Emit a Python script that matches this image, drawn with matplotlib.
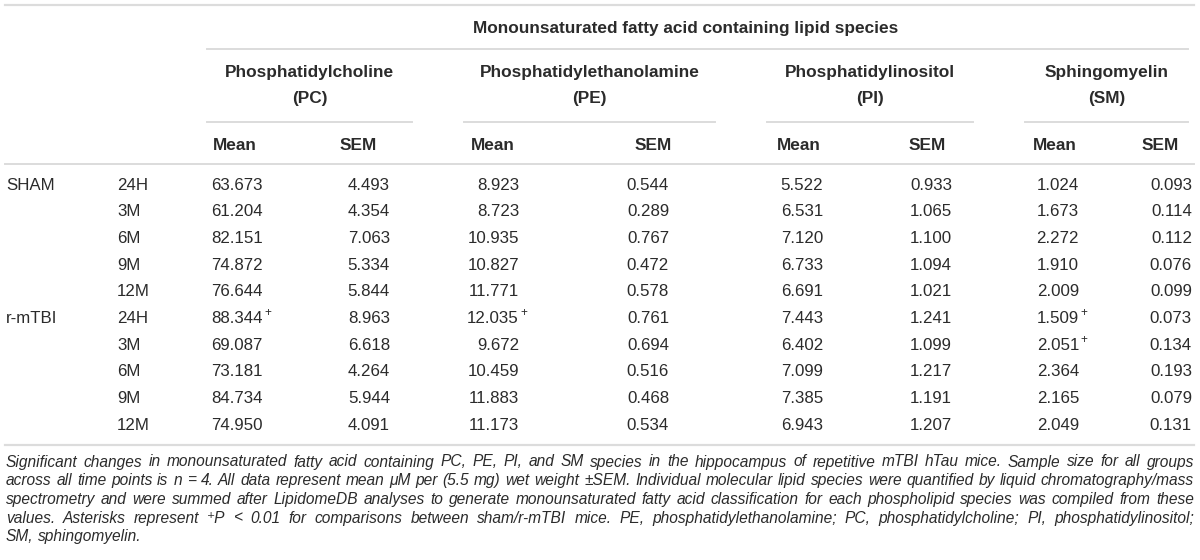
import matplotlib
matplotlib.use('Agg')
import matplotlib.pyplot as plt

plt.rcParams['font.family'] = ['Liberation Sans', 'DejaVu Sans']

# table data
groups = ['SHAM', 'r-mTBI']
times = ['24H', '3M', '6M', '9M', '12M']
lipids = ['Phosphatidylcholine', 'Phosphatidylethanolamine', 'Phosphatidylinositol', 'Sphingomyelin']
abbrevs = ['(PC)', '(PE)', '(PI)', '(SM)']

pc_mean = [63.673, 61.204, 82.151, 74.872, 76.644, 88.344, 69.087, 73.181, 84.734, 74.950]
pc_sem = [4.493, 4.354, 7.063, 5.334, 5.844, 8.963, 6.618, 4.264, 5.944, 4.091]
pe_mean = [8.923, 8.723, 10.935, 10.827, 11.771, 12.035, 9.672, 10.459, 11.883, 11.173]
pe_sem = [0.544, 0.289, 0.767, 0.472, 0.578, 0.761, 0.694, 0.516, 0.468, 0.534]
pi_mean = [5.522, 6.531, 7.120, 6.733, 6.691, 7.443, 6.402, 7.099, 7.385, 6.943]
pi_sem = [0.933, 1.065, 1.100, 1.094, 1.021, 1.241, 1.099, 1.217, 1.191, 1.207]
sm_mean = [1.024, 1.673, 2.272, 1.910, 2.009, 1.509, 2.051, 2.364, 2.165, 2.049]
sm_sem = [0.093, 0.114, 0.112, 0.076, 0.099, 0.073, 0.134, 0.193, 0.079, 0.131]

# (column index, row index) of values marked with superscript +
marked = [(0, 5), (2, 5), (6, 5), (6, 6)]

caption = [
    "Significant changes in monounsaturated fatty acid containing PC, PE, PI, and SM species in the hippocampus of repetitive mTBI hTau mice. Sample size for all groups",
    "across all time points is n = 4. All data represent mean \u03bcM per (5.5 mg) wet weight \u00b1SEM. Individual molecular lipid species were quantified by liquid chromatography/mass",
    "spectrometry and were summed after LipidomeDB analyses to generate monounsaturated fatty acid classification for each phospholipid species was compiled from these",
    "values. Asterisks represent \u207aP < 0.01 for comparisons between sham/r-mTBI mice. PE, phosphatidylethanolamine; PC, phosphatidylcholine; PI, phosphatidylinositol;",
    "SM, sphingomyelin.",
]

columns = [pc_mean, pc_sem, pe_mean, pe_sem, pi_mean, pi_sem, sm_mean, sm_sem]

# layout in pixels
col_right = [263, 390, 519, 669, 823, 952, 1079, 1192]
head_left = [213, 340, 471, 635, 777, 909, 1033, 1142]
class_lines = [(207, 412), (464, 715), (767, 973), (1025, 1188)]
row_y0, row_dy = 185, 26.67
txt = '#2b2b2b'
rule = '#dcdcdc'
fs = 12.2
fs_b = 12.4

fig = plt.figure(figsize=(12, 5.6), dpi=100)
ax = fig.add_axes([0, 0, 1, 1])
ax.set_xlim(0, 1200)
ax.set_ylim(560, 0)
ax.axis('off')

# rules
ax.plot([5, 1194], [5, 5], color=rule, lw=1.6)
ax.plot([207, 1188], [49, 49], color=rule, lw=1.4)
for x0, x1 in class_lines:
    ax.plot([x0, x1], [122, 122], color=rule, lw=1.4)
ax.plot([5, 1194], [164, 164], color=rule, lw=1.4)
ax.plot([5, 1194], [445, 445], color=rule, lw=1.6)

# headers
ax.text(686, 28, 'Monounsaturated fatty acid containing lipid species', ha='center', va='center',
        fontsize=fs_b, fontweight='bold', color=txt)
for (x0, x1), name, ab in zip(class_lines, lipids, abbrevs):
    xc = (x0 + x1) / 2
    ax.text(xc, 72, name, ha='center', va='center', fontsize=fs_b, fontweight='bold', color=txt)
    ax.text(xc, 98, ab, ha='center', va='center', fontsize=fs_b, fontweight='bold', color=txt)
for i, x in enumerate(head_left):
    ax.text(x, 145, 'Mean' if i % 2 == 0 else 'SEM', ha='left', va='center',
            fontsize=fs_b, fontweight='bold', color=txt)

# body
for r in range(10):
    y = row_y0 + r * row_dy
    if r % 5 == 0:
        ax.text(6, y, groups[r // 5], ha='left', va='center', fontsize=fs, color=txt)
    ax.text(117, y, times[r % 5], ha='left', va='center', fontsize=fs, color=txt)
    for c, vals in enumerate(columns):
        ax.text(col_right[c], y, f'{vals[r]:.3f}', ha='right', va='center', fontsize=fs, color=txt)
        if (c, r) in marked:
            ax.text(col_right[c] + 1, y - 5, '+', ha='left', va='center', fontsize=8.5, color=txt)

# caption, justified word by word
renderer = fig.canvas.get_renderer()
cap_x0, cap_x1 = 6, 1194
cap_y0, cap_dy = 462, 18.7

# pick the caption size so the densest line just fits with normal spaces
probe = 10.0
widest = 0
for line in caption:
    t = ax.text(0, 0, line, fontsize=probe, style='italic')
    widest = max(widest, t.get_window_extent(renderer).width)
    t.remove()
cap_fs = probe * (cap_x1 - cap_x0) / widest * 0.995

for li, line in enumerate(caption):
    y = cap_y0 + li * cap_dy
    words = line.split(' ')
    items = [ax.text(0, y, w, ha='left', va='center', fontsize=cap_fs, style='italic', color=txt)
             for w in words]
    widths = [t.get_window_extent(renderer).width for t in items]
    if li < len(caption) - 1:
        gap = (cap_x1 - cap_x0 - sum(widths)) / (len(words) - 1)
    else:
        gap = cap_fs * 100 / 72 * 0.28
    x = cap_x0
    for t, w in zip(items, widths):
        t.set_x(x)
        x += w + gap

fig.savefig('out.png', dpi=100)
